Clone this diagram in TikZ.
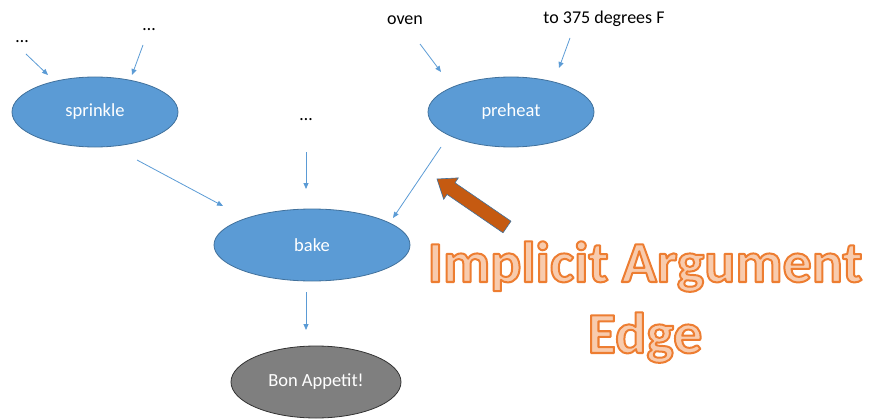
\documentclass[tikz,border=0pt]{standalone}
\usepackage{fontspec}
\setmainfont{Carlito}
\usetikzlibrary{shapes.geometric,arrows.meta}
\definecolor{nodeblue}{HTML}{5B9BD5}
\definecolor{nodeedge}{HTML}{41719C}
\definecolor{endgray}{HTML}{7F7F7F}
\definecolor{bigarrow}{HTML}{C55A11}
\definecolor{titlefill}{HTML}{F8CBAD}
\definecolor{titleline}{HTML}{ED7D31}
\tikzset{
  op/.style={ellipse, draw=nodeedge, fill=nodeblue, line width=0.8pt,
    inner sep=0pt, text=white, font=\fontsize{18.5}{20}\selectfont},
  final/.style={op, fill=endgray, draw=black!80},
  arg/.style={inner sep=0pt, font=\fontsize{18}{20}\selectfont, text=black},
  flow/.style={draw=nodeblue, line width=0.8pt, -{Triangle[length=6pt,width=5pt]}},
  title/.style={anchor=base, inner sep=0pt, font=\bfseries\fontsize{58}{70}\selectfont}
}
% filled and stroked glyphs: fill colour from xcolor, stroke set by hand
\newcommand{\outlined}[1]{{\color{titlefill}%
  \special{pdf:literal direct 0.929 0.490 0.192 RG 2 w 1 j 2 Tr}%
  #1%
  \special{pdf:literal direct 0 Tr}}}
\begin{document}
\begin{tikzpicture}[x=1pt,y=-1pt]
\useasboundingbox (0,0) rectangle (876,420);

% operation nodes
\node[op, minimum width=166pt, minimum height=70pt] (sprinkle) at (95,112) {sprinkle};
\node[op, minimum width=166pt, minimum height=70pt] (preheat) at (511,112) {preheat};
\node[op, minimum width=196pt, minimum height=72pt] (bake) at (312,245) {bake};
\node[final, minimum width=170pt, minimum height=72pt] (bon) at (316,382) {Bon Appetit!};

% argument labels
\node[arg] (a1) at (22,42) {…};
\node[arg] (a2) at (149,30) {…};
\node[arg] (a3) at (306,120) {…};
\node[arg] (oven) at (405,20) {oven};
\node[arg] (temp) at (604,19) {to 375 degrees F};

% free ends of the connectors
\coordinate (a1s) at (26,54);   \coordinate (a1e) at (48,75);
\coordinate (a2s) at (143,45);  \coordinate (a2e) at (132,75);
\coordinate (ovs) at (420,44);  \coordinate (ove) at (441,72);
\coordinate (tps) at (570,38);  \coordinate (tpe) at (559,68);
\coordinate (sps) at (137,160); \coordinate (spe) at (223,206);
\coordinate (a3s) at (306,152); \coordinate (a3e) at (306,189);
\coordinate (phs) at (441,147); \coordinate (phe) at (393,218);
\coordinate (bks) at (306,292); \coordinate (bke) at (306,330);

\draw[flow] (a1s) -- (a1e);
\draw[flow] (a2s) -- (a2e);
\draw[flow] (ovs) -- (ove);
\draw[flow] (tps) -- (tpe);
\draw[flow] (sps) -- (spe);
\draw[flow] (a3s) -- (a3e);
\draw[flow] (phs) -- (phe);
\draw[flow] (bks) -- (bke);

% block arrow pointing at the preheat edge
\draw[fill=bigarrow, draw=nodeedge, line width=0.6pt, line join=miter]
  (437,179) -- (458.3,177.9) -- (455.0,182.8) -- (511.0,221.2)
  -- (503.0,232.8) -- (447.0,194.4) -- (443.7,199.3) -- cycle;

% caption
\node[title] (cap1) at (645,282) {\outlined{Implicit Argument}};
\node[title] (cap2) at (645,353) {\outlined{Edge}};
\end{tikzpicture}
\end{document}
